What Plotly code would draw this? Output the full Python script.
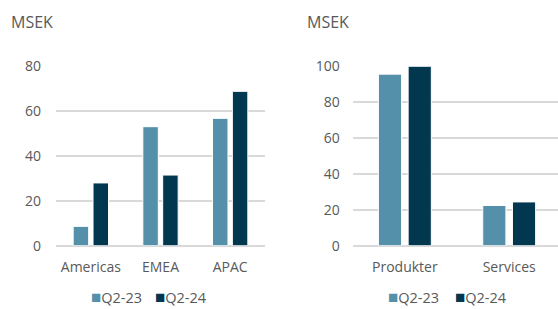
import plotly.graph_objects as go

regions = ["Americas", "EMEA", "APAC"]
region_q2_23 = [8.6, 52.9, 56.6]
region_q2_24 = [27.9, 31.4, 68.6]

segments = ["Produkter", "Services"]
segment_q2_23 = [95.6, 22.4]
segment_q2_24 = [100.0, 24.4]

series_names = ["Q2-23", "Q2-24"]
unit_label = "MSEK"

c_light = "#5590AA"
c_dark = "#02384F"
colors = [c_light, c_dark]
grid = "#D9D9D9"
txt = "#595959"
font_family = "Open Sans, Segoe UI, sans-serif"

fig = go.Figure()

for vals, name, col in [(region_q2_23, series_names[0], c_light), (region_q2_24, series_names[1], c_dark)]:
    fig.add_trace(go.Bar(x=regions, y=vals, name=name, showlegend=False,
                         marker=dict(color=col, line=dict(color="white", width=1)),
                         xaxis="x", yaxis="y"))
for vals, name, col in [(segment_q2_23, series_names[0], c_light), (segment_q2_24, series_names[1], c_dark)]:
    fig.add_trace(go.Bar(x=segments, y=vals, name=name, showlegend=False,
                         marker=dict(color=col, line=dict(color="white", width=1)),
                         xaxis="x2", yaxis="y2"))

W, H = 558, 309
ydom = [(H - 245.7) / H, (H - 65.7) / H]

axis_font = dict(family=font_family, size=14, color=txt)

common_y = dict(dtick=20, showgrid=True, gridcolor=grid, gridwidth=1.5,
                zeroline=True, zerolinecolor=grid, zerolinewidth=1.5, showline=False,
                tickfont=axis_font, ticks="", automargin=False, fixedrange=True)
common_x = dict(showgrid=False, zeroline=False, showline=False, tickfont=axis_font,
                ticks="", ticklabelstandoff=11, automargin=False, fixedrange=True)

annotations = [
    dict(text=unit_label, x=9 / W, y=(H - 21.5) / H, xref="paper", yref="paper", xanchor="left", yanchor="middle",
         showarrow=False, font=dict(family=font_family, size=16, color=txt)),
    dict(text=unit_label, x=305 / W, y=(H - 21.5) / H, xref="paper", yref="paper", xanchor="left", yanchor="middle",
         showarrow=False, font=dict(family=font_family, size=16, color=txt)),
]

# legend entries (one set per chart)
legend_starts = [[90, 154], [387, 454]]
for starts in legend_starts:
    for sx, name, col in zip(starts, series_names, colors):
        annotations.append(dict(
            text=f"<span style='color:{col};font-size:17px'>■</span>{name}",
            x=sx / W, y=(H - 296.5) / H, xref="paper", yref="paper", xanchor="left", yanchor="middle",
            borderpad=0, showarrow=False, font=dict(family=font_family, size=14.5, color=txt)))

fig.update_layout(
    width=W, height=H,
    margin=dict(l=0, r=0, t=0, b=0),
    paper_bgcolor="white", plot_bgcolor="white",
    barmode="group", bargap=0.43, bargroupgap=0.22,
    font=dict(family=font_family, color=txt),
    showlegend=False,
    xaxis=dict(domain=[56 / W, 265 / W], range=[-0.5, 2.5], anchor="y", **common_x),
    yaxis=dict(domain=ydom, range=[0, 80], anchor="x", ticklabelstandoff=14, **common_y),
    xaxis2=dict(domain=[352.7 / W, 1.0], range=[-0.5, 1.468], anchor="y2", **common_x),
    yaxis2=dict(domain=ydom, range=[0, 100.3], anchor="x2", ticklabelstandoff=12, **common_y),
    annotations=annotations,
)

fig.write_html("out.html", config=dict(displayModeBar=False),
               post_script="document.body.style.margin='0';document.body.style.overflow='hidden';")
